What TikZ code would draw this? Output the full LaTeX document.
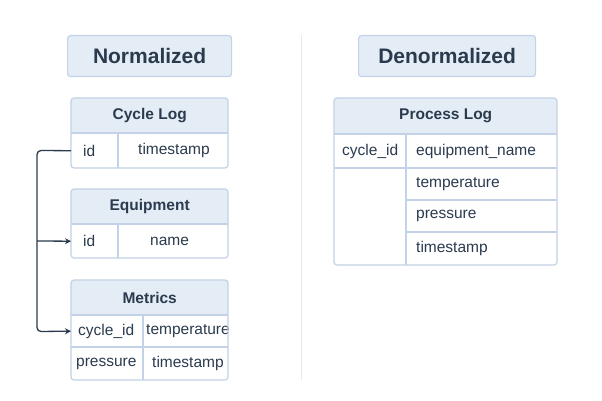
\documentclass[tikz,border=0pt]{standalone}
\usepackage{fontspec}
\setmainfont{Liberation Sans}
\usetikzlibrary{arrows.meta}
\definecolor{hdr}{HTML}{E4ECF6}
\definecolor{bd}{HTML}{C3D2E6}
\definecolor{tx}{HTML}{2B3B4E}
\definecolor{sep}{HTML}{E6E9ED}
\begin{document}
\begin{tikzpicture}[x=1pt,y=-1pt,
  title/.style={draw=bd,fill=hdr,rounded corners=3pt,line width=1.2pt,text=tx,font=\bfseries\fontsize{21}{24}\selectfont,anchor=north west,inner sep=0pt},
  head/.style={text=tx,font=\bfseries\fontsize{15.5}{18}\selectfont,anchor=north west,inner sep=0pt},
  cell/.style={text=tx,font=\fontsize{15.5}{18}\selectfont,anchor=north west,inner sep=0pt,inner xsep=8pt,align=left,text width=#1},
  cell/.default=50pt,
  frame/.style={draw=bd,line width=1.2pt,rounded corners=3pt},
  ln/.style={draw=bd,line width=1.2pt},
  conn/.style={draw=tx,line width=1.3pt,rounded corners=4pt,-{Stealth[length=6pt,width=6pt]}}]
\useasboundingbox (0,0) rectangle (602,401);
\fill[white] (0,0) rectangle (602,401);
\draw[sep,line width=1pt] (301,35) -- (301,380);
% titles
\node[title,minimum width=164pt,minimum height=41pt] (tN) at (67,35) {Normalized};
\node[title,minimum width=177pt,minimum height=41pt] (tD) at (358,35) {Denormalized};
% Cycle Log
\fill[hdr,rounded corners=3pt] (71,98) rectangle (228,133);
\node[head,minimum width=157pt,minimum height=35pt] (cl) at (71,98) {Cycle Log};
\node[cell=31pt,minimum height=35pt] (clid) at (71,133) {\hspace*{4pt}id};
\node[cell=94pt,minimum height=35pt] (clts) at (118,133) {\hspace*{12pt}timestamp};
\draw[ln] (71,133) -- (228,133) (118,133) -- (118,168);
\draw[frame] (71,98) rectangle (228,168);
% Equipment
\fill[hdr,rounded corners=3pt] (71,189) rectangle (228,224);
\node[head,minimum width=157pt,minimum height=35pt] (eq) at (71,189) {Equipment};
\node[cell=31pt,minimum height=34pt] (eqid) at (71,224) {\hspace*{4pt}id};
\node[cell=94pt,minimum height=34pt] (eqnm) at (118,224) {\hspace*{24pt}name};
\draw[ln] (71,224) -- (228,224) (118,224) -- (118,258);
\draw[frame] (71,189) rectangle (228,258);
% Metrics
\fill[hdr,rounded corners=3pt] (71,280) rectangle (228,315);
\node[head,minimum width=157pt,minimum height=35pt] (mt) at (71,280) {Metrics};
\node[cell=62pt,minimum height=32pt,inner xsep=5pt] (mcid) at (71,315) {\hspace*{2pt}cycle\_id};
\node[cell=79pt,minimum height=32pt,inner xsep=3pt] (mtemp) at (143,315) {temperature};
\node[cell=62pt,minimum height=33pt,inner xsep=5pt] (mpr) at (71,347) {pressure};
\node[cell=79pt,minimum height=33pt,inner xsep=3pt] (mts) at (143,347) {\hspace*{6pt}timestamp};
\draw[ln] (71,315) -- (228,315) (71,347) -- (228,347) (143,315) -- (143,380);
\draw[frame] (71,280) rectangle (228,380);
% Process Log
\fill[hdr,rounded corners=3pt] (334,98) rectangle (557,134);
\node[head,minimum width=223pt,minimum height=36pt] (pl) at (334,98) {Process Log};
\node[cell=56pt,minimum height=34pt] (pcid) at (334,134) {cycle\_id};
\node[cell=131pt,minimum height=34pt,inner xsep=10pt] (peq) at (406,134) {equipment\_name};
\node[cell=131pt,minimum height=32pt,inner xsep=10pt] (ptemp) at (406,168) {temperature};
\node[cell=131pt,minimum height=32pt,inner xsep=10pt] (ppr) at (406,200) {pressure};
\node[cell=131pt,minimum height=33pt,inner xsep=10pt] (pts) at (406,232) {timestamp};
\draw[ln] (334,134) -- (557,134) (334,168) -- (557,168) (406,200) -- (557,200) (406,232) -- (557,232) (406,134) -- (406,265);
\draw[frame] (334,98) rectangle (557,265);
% connectors
\coordinate (j) at (37,241);
\draw[conn] (clid.west) -- (37,150.5) -- (37,331.5) -- (mcid.west);
\draw[conn,rounded corners=0pt] (j) -- (eqid.west);
\end{tikzpicture}
\end{document}
